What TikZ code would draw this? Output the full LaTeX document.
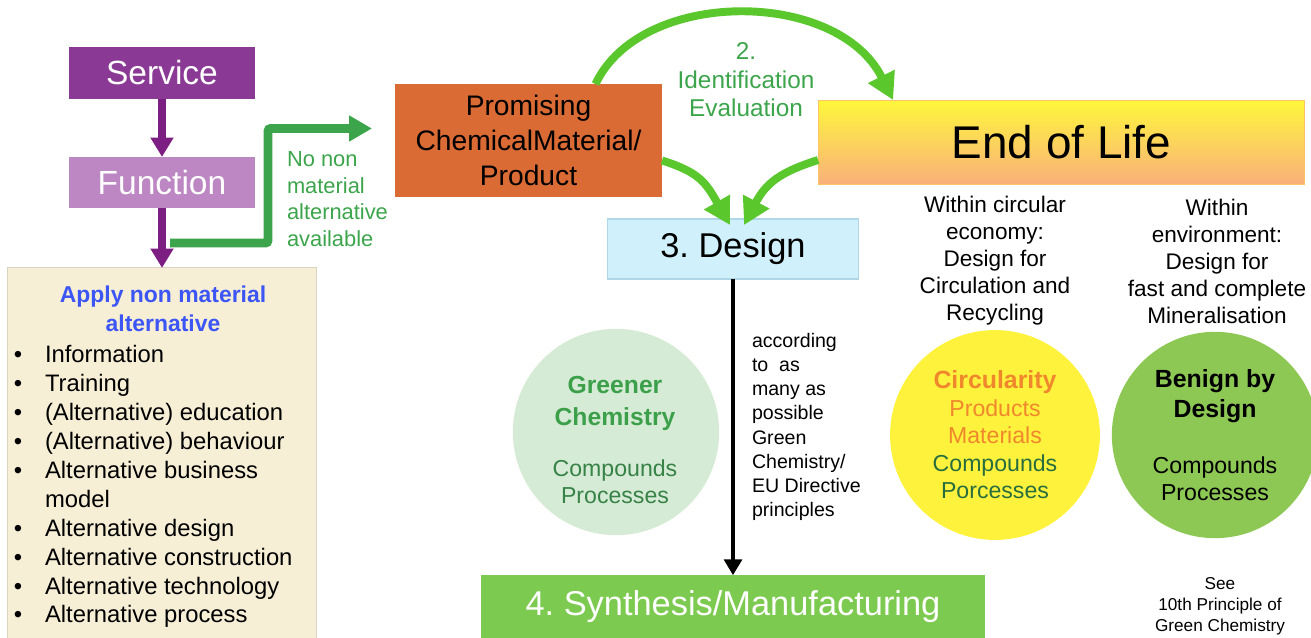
\documentclass[tikz,border=0pt]{standalone}
\usepackage{fontspec}
\setmainfont{Liberation Sans}
\usetikzlibrary{arrows.meta,calc}
\frenchspacing

\definecolor{svcC}{RGB}{138,58,149}
\definecolor{fnC}{RGB}{188,135,195}
\definecolor{arrC}{RGB}{125,30,130}
\definecolor{beigeC}{RGB}{246,239,214}
\definecolor{beigeLine}{RGB}{218,212,192}
\definecolor{titleC}{RGB}{60,85,245}
\definecolor{elbowC}{RGB}{60,165,75}
\definecolor{arcC}{RGB}{90,200,45}
\definecolor{promC}{RGB}{218,107,52}
\definecolor{eolTop}{RGB}{255,247,60}
\definecolor{eolBot}{RGB}{249,176,122}
\definecolor{designC}{RGB}{208,240,251}
\definecolor{designLine}{RGB}{175,215,232}
\definecolor{synthC}{RGB}{125,202,80}
\definecolor{greenerC}{RGB}{214,235,214}
\definecolor{greenerTxt}{RGB}{60,160,75}
\definecolor{greenerSub}{RGB}{55,130,70}
\definecolor{circC}{RGB}{255,242,60}
\definecolor{circOrange}{RGB}{240,135,45}
\definecolor{circGreen}{RGB}{40,110,60}
\definecolor{benignC}{RGB}{140,200,83}

\begin{document}
\begin{tikzpicture}[x=0.567pt,y=-0.567pt,
  every node/.style={inner sep=0pt,outer sep=0pt},
  block/.style={shape=rectangle,align=center},
  svcBox/.style={block,fill=svcC,text=white,minimum width=105.5pt,minimum height=29.5pt,font=\fontsize{19}{22}\selectfont},
  fnBox/.style={svcBox,fill=fnC,minimum height=29pt},
  altBox/.style={block,fill=beigeC,draw=beigeLine,line width=0.6pt,minimum width=175.2pt,minimum height=211pt},
  promBox/.style={block,fill=promC,minimum width=151.4pt,minimum height=64pt,font=\fontsize{16}{19.8}\selectfont},
  eolBox/.style={block,top color=eolTop,bottom color=eolBot,draw=eolBot!70!eolTop,line width=0.5pt,minimum width=276pt,minimum height=47.6pt,font=\fontsize{26}{30}\selectfont},
  designBox/.style={block,fill=designC,draw=designLine,line width=0.6pt,minimum width=142.3pt,minimum height=34pt,font=\fontsize{19.5}{23}\selectfont},
  synthBox/.style={block,fill=synthC,text=white,minimum width=285.8pt,minimum height=36pt,font=\fontsize{19.5}{23}\selectfont},
  blob/.style={shape=circle,align=center},
  purpleArrow/.style={draw=arrC,line width=4.5pt,-{Triangle[length=11pt,width=12.5pt]}},
  elbowArrow/.style={draw=elbowC,line width=5pt,rounded corners=1.5pt,-{Triangle[length=13pt,width=14pt]}},
  arcArrow/.style={draw=arcC,line width=4.5pt,-{Triangle[length=15pt,width=16pt]}},
  blackArrow/.style={draw=black,line width=2.6pt,-{Triangle[length=9pt,width=10pt]}},
  note/.style={align=center,font=\fontsize{12.8}{15.3}\selectfont}]
\useasboundingbox (0,0) rectangle (1311,637);

% left column
\node[svcBox] (svc) at (162,73) {Service};
\node[fnBox] (fn) at (162,182.5) {Function};
\node[altBox] (alt) at (162,454) {};
\node[align=center,text=titleC,font=\bfseries\fontsize{13}{16.4}\selectfont] (altTitle) at (163,309) {Apply non material\\alternative};
\node[anchor=west,font=\fontsize{13.5}{16.4}\selectfont] (altList) at (14,487) {%
\begin{tabular}{@{}p{17.6pt}@{}l@{}}
\textbullet & Information\\
\textbullet & Training\\
\textbullet & (Alternative) education\\
\textbullet & (Alternative) behaviour\\
\textbullet & Alternative business\\
 & model\\
\textbullet & Alternative design\\
\textbullet & Alternative construction\\
\textbullet & Alternative technology\\
\textbullet & Alternative process
\end{tabular}};
\draw[purpleArrow] (svc) -- (fn);
\draw[purpleArrow] (fn) -- (alt);

% chemical route
\node[promBox] (prom) at (528.5,140.5) {Promising\\ChemicalMaterial/\\Product};
\node[eolBox] (eol) at (1061.5,142) {End of Life};
\node[designBox] (design) at (733,249) {3. Design};
\node[synthBox] (synth) at (733,607) {4. Synthesis/Manufacturing};

\coordinate (fork) at ($(fn.south)+(8,35)$);
\coordinate (nnaTip) at ($(prom.west)+(-23,-12)$);
\draw[elbowArrow] (fork) -- ++(98,0) |- (nnaTip);
\node[anchor=west,align=left,text=elbowC,font=\fontsize{12.4}{15.1}\selectfont] (nna) at (287,199) {No non\\material\\alternative\\available};

\draw[arcArrow] ($(prom.north)+(67,0)$) .. controls +(45,-96) and +(-56,-112) .. ($(eol.north west)+(75,0)$);
\node[align=center,text=elbowC,font=\fontsize{13.8}{16.2}\selectfont] (idEval) at (746,80) {2.\\Identification\\Evaluation};
\draw[arcArrow] ($(prom.east)+(0,20)$) .. controls +(38,12) and +(-24,-42) .. ($(design.north)+(-3,6)$);
\draw[arcArrow] ($(eol.west)+(0,18)$) .. controls +(-38,12) and +(22,-42) .. ($(design.north)+(11,6)$);
\draw[blackArrow] (design) -- (synth);
\node[anchor=west,align=left,font=\fontsize{11.1}{13.7}\selectfont] (principles) at (752,427) {according\\to\ \ as\\many as\\possible\\Green\\Chemistry/\\EU Directive\\principles};

% circles
\node[blob,fill=greenerC,minimum size=117pt] (greener) at (616,432) {};
\node[align=center,font=\fontsize{13.1}{15.3}\selectfont] (greenerTxt) at (615,440)
  {\textcolor{greenerTxt}{\bfseries\fontsize{14}{15.3}\selectfont Greener}\\[2.8pt]
   \textcolor{greenerTxt}{\bfseries\fontsize{14}{15.3}\selectfont Chemistry}\\[13.6pt]
   \textcolor{greenerSub}{Compounds}\\
   \textcolor{greenerSub}{Processes}};

\node[note] (circText) at (995,261) {Within circular\\economy:\\Design for\\Circulation and\\Recycling};
\node[note] (envText) at (1217,261) {Within\\environment:\\Design for\\fast and complete\\Mineralisation};

\node[blob,fill=circC,minimum size=119pt,font=\fontsize{13.1}{15.6}\selectfont] (circ) at (995,435)
  {\textcolor{circOrange}{\bfseries\fontsize{14.1}{15.6}\selectfont Circularity}\\
   \textcolor{circOrange}{Products}\\
   \textcolor{circOrange}{Materials}\\
   \textcolor{circGreen}{Compounds}\\
   \textcolor{circGreen}{Porcesses}};
\node[blob,fill=benignC,minimum size=117pt,font=\fontsize{13.1}{15.3}\selectfont] (benign) at (1215,435)
  {{\bfseries\fontsize{14.1}{15.3}\selectfont Benign by}\\[1.7pt]
   {\bfseries\fontsize{14.1}{15.3}\selectfont Design}\\[16.4pt]
   Compounds\\
   Processes};
\node[align=center,font=\fontsize{9.75}{12}\selectfont] (seeNote) at (1220,606) {See\\10th Principle of\\Green Chemistry};
\end{tikzpicture}
\end{document}
